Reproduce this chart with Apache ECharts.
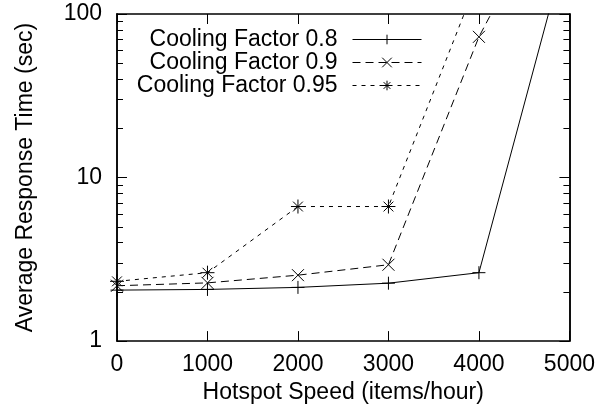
<!DOCTYPE html>
<html>
<head>
<meta charset="utf-8">
<script src="https://cdn.jsdelivr.net/npm/echarts@6/dist/echarts.min.js"></script>
<style>
html,body{margin:0;padding:0;background:#fff;}
#chart{width:598px;height:409px;}
</style>
</head>
<body>
<div id="chart"></div>
<script>
// ---- data ----
var xValues = [0, 1000, 2000, 3000, 4000, 5000];
var cf08 = [2.05, 2.07, 2.13, 2.26, 2.62, 300];
var cf09 = [2.18, 2.27, 2.53, 2.93, 72.5, 800];
var cf095 = [2.32, 2.62, 6.65, 6.65, 170];
var seriesNames = ['Cooling Factor 0.8', 'Cooling Factor 0.9', 'Cooling Factor 0.95'];
var xTicks = [0, 1000, 2000, 3000, 4000, 5000];
var yMajorTicks = [1, 10, 100];
var yMinorTicks = [2, 3, 4, 5, 6, 7, 8, 9, 20, 30, 40, 50, 60, 70, 80, 90];

function pairs(ys) { return ys.map(function (v, i) { return [xValues[i], v]; }); }

var FONT = 'Liberation Sans, Arial, Helvetica, sans-serif';
var FS = 23;
var plusPath = 'path://M0,5L10,5M5,0L5,10';
var crossPath = 'path://M0,0L10,10M0,10L10,0';
var starPath = 'path://M0,5L10,5M5,0L5,10M1.5,1.5L8.5,8.5M1.5,8.5L8.5,1.5';

var chart = echarts.init(document.getElementById('chart'), null, {renderer: 'canvas'});
var axisLine = {show: true, lineStyle: {color: '#000', width: 1.5}};
function yAxisDef(pos, ticks, len, labels, extra) {
  var a = {
    type: 'log', logBase: 10, min: 1, max: 100, position: pos,
    axisLine: axisLine,
    axisTick: {show: true, inside: true, length: len, customValues: ticks, lineStyle: {color: '#000', width: 1}},
    axisLabel: labels ? {show: true, customValues: yMajorTicks, color: '#000', fontSize: FS, fontFamily: FONT, margin: 15} : {show: false},
    splitLine: {show: false}
  };
  for (var k in extra) a[k] = extra[k];
  return a;
}
function xAxisDef(pos, labels, extra) {
  var a = {
    type: 'value', min: 0, max: 5000, interval: 1000, position: pos,
    axisLine: axisLine,
    axisTick: {show: true, inside: true, length: 10, customValues: xTicks, lineStyle: {color: '#000', width: 1}},
    axisLabel: labels ? {show: true, customValues: xTicks, color: '#000', fontSize: FS, fontFamily: FONT, margin: 12,
      formatter: function (v) { return String(v); }} : {show: false},
    splitLine: {show: false}
  };
  for (var k in extra) a[k] = extra[k];
  return a;
}
function mkSeries(name, ys, sym, size, dash) {
  return {
    name: name, type: 'line', data: pairs(ys), xAxisIndex: 0, yAxisIndex: 0,
    symbol: sym, symbolSize: size, showSymbol: true, clip: true,
    lineStyle: {color: '#000', width: 1, type: dash},
    itemStyle: {color: '#000', borderColor: '#000', borderWidth: 1},
    emphasis: {disabled: true}, animation: false
  };
}
function mkLegend(name, top) {
  return {
    data: [name], orient: 'vertical', align: 'right', right: 176, top: top,
    itemWidth: 69, itemHeight: 12, padding: 0,
    lineStyle: {width: 1},
    itemStyle: {borderWidth: 1},
    textStyle: {color: '#000', fontSize: FS, fontFamily: FONT, padding: [0, 10, 0, 0]},
    selectedMode: false
  };
}
chart.setOption({
  backgroundColor: '#fff',
  animation: false,
  grid: {left: 117, right: 28, top: 14, bottom: 62, containLabel: false},
  legend: [mkLegend(seriesNames[0], 28), mkLegend(seriesNames[1], 51), mkLegend(seriesNames[2], 74)],
  xAxis: [
    xAxisDef('bottom', true, {name: 'Hotspot Speed (items/hour)', nameLocation: 'middle', nameGap: 34,
      nameTextStyle: {color: '#000', fontSize: FS, fontFamily: FONT}}),
    xAxisDef('top', false, {})
  ],
  yAxis: [
    yAxisDef('left', yMajorTicks, 10, true, {name: 'Average Response Time (sec)', nameLocation: 'middle', nameGap: 80,
      nameTextStyle: {color: '#000', fontSize: FS, fontFamily: FONT}}),
    yAxisDef('left', yMinorTicks, 6, false, {}),
    yAxisDef('right', yMajorTicks, 10, false, {}),
    yAxisDef('right', yMinorTicks, 6, false, {})
  ],
  series: [
    mkSeries(seriesNames[0], cf08, plusPath, 13, 'solid'),
    mkSeries(seriesNames[1], cf09, crossPath, 12, [8, 5]),
    mkSeries(seriesNames[2], cf095, starPath, 14, [4, 5])
  ]
});
</script>
</body>
</html>
